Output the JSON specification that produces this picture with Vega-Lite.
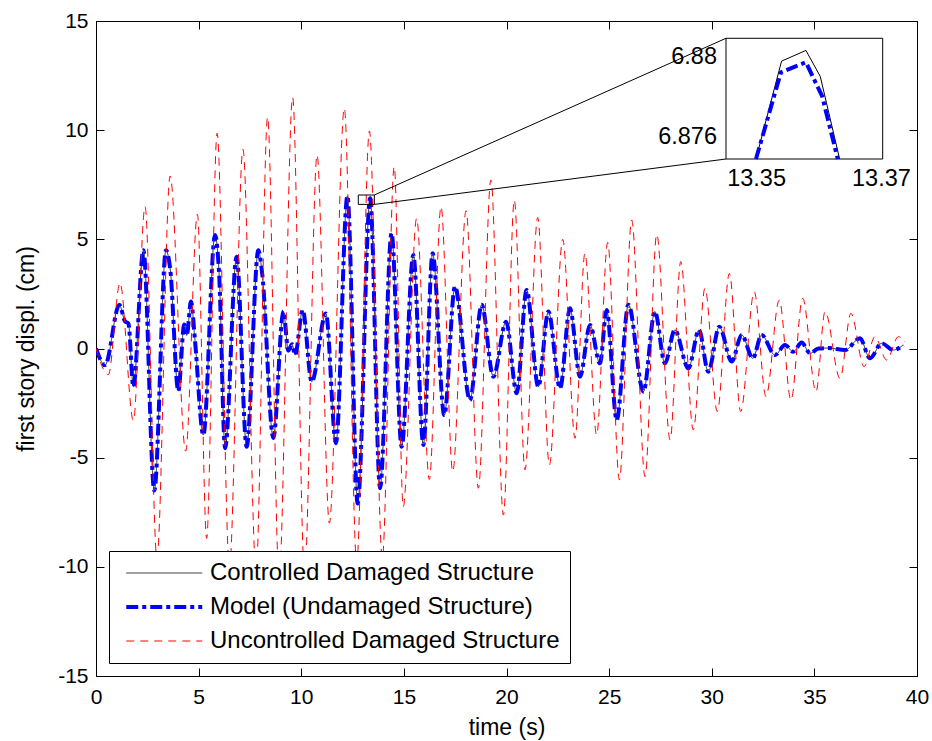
{
  "$schema": "https://vega.github.io/schema/vega-lite/v6.json",
  "width": 821,
  "height": 655,
  "autosize": {"type": "none"},
  "padding": {"left": 96, "top": 21, "right": 15, "bottom": 65},
  "background": "white",
  "config": {
    "font": "Liberation Sans",
    "view": {"stroke": "black", "strokeWidth": 1},
    "axis": {
      "domainColor": "black", "tickColor": "black", "labelColor": "black", "titleColor": "black",
      "labelFontSize": 21, "titleFontSize": 23, "titleFontWeight": "normal", "grid": false,
      "tickSize": -8, "domainWidth": 1, "tickWidth": 1, "labelFlush": false,
      "labelFont": "Liberation Sans", "titleFont": "Liberation Sans"
    },
    "legend": {"labelFont": "Liberation Sans"}
  },
  "datasets": {
    "main": [
      {"t":0,"v":0,"s":"a"},{"t":0.44,"v":-0.76,"s":"a"},{"t":1.14,"v":2.0,"s":"a"},{"t":1.41,"v":1.25,"s":"a"},{"t":1.58,"v":1.15,"s":"a"},{"t":1.82,"v":-1.75,"s":"a"},{"t":2.31,"v":4.5,"s":"a"},{"t":2.84,"v":-6.5,"s":"a"},{"t":3.41,"v":4.5,"s":"a"},{"t":3.62,"v":3.6,"s":"a"},{"t":4.01,"v":-1.95,"s":"a"},{"t":4.3,"v":1.1,"s":"a"},{"t":4.42,"v":0.6,"s":"a"},{"t":4.63,"v":2.15,"s":"a"},{"t":4.82,"v":0.4,"s":"a"},{"t":5.23,"v":-3.96,"s":"a"},{"t":5.8,"v":5.2,"s":"a"},{"t":6.0,"v":3.4,"s":"a"},{"t":6.29,"v":-4.57,"s":"a"},{"t":6.85,"v":4.2,"s":"a"},{"t":7.34,"v":-4.5,"s":"a"},{"t":7.91,"v":4.5,"s":"a"},{"t":8.1,"v":3.4,"s":"a"},{"t":8.64,"v":-4.1,"s":"a"},{"t":9.13,"v":1.7,"s":"a"},{"t":9.37,"v":-0.1,"s":"a"},{"t":9.55,"v":0.2,"s":"a"},{"t":9.7,"v":-0.3,"s":"a"},{"t":10.07,"v":1.76,"s":"a"},{"t":10.51,"v":-1.52,"s":"a"},{"t":11.2,"v":1.6,"s":"a"},{"t":11.69,"v":-4.34,"s":"a"},{"t":12.25,"v":6.98,"s":"a"},{"t":12.75,"v":-7.1,"s":"a"},{"t":13.357,"v":6.8803,"s":"a"},{"t":13.84,"v":-6.4,"s":"a"},{"t":14.4,"v":5.28,"s":"a"},{"t":14.89,"v":-4.5,"s":"a"},{"t":15.46,"v":4.28,"s":"a"},{"t":15.95,"v":-4.42,"s":"a"},{"t":16.4,"v":4.36,"s":"a"},{"t":16.97,"v":-3.05,"s":"a"},{"t":17.49,"v":2.83,"s":"a"},{"t":18.22,"v":-2.36,"s":"a"},{"t":18.79,"v":2.0,"s":"a"},{"t":19.36,"v":-1.29,"s":"a"},{"t":19.98,"v":1.23,"s":"a"},{"t":20.5,"v":-2.05,"s":"a"},{"t":20.98,"v":2.68,"s":"a"},{"t":21.55,"v":-1.75,"s":"a"},{"t":22.04,"v":1.69,"s":"a"},{"t":22.61,"v":-1.82,"s":"a"},{"t":23.09,"v":1.84,"s":"a"},{"t":23.58,"v":-1.29,"s":"a"},{"t":24.07,"v":1.08,"s":"a"},{"t":24.55,"v":-0.68,"s":"a"},{"t":24.88,"v":1.76,"s":"a"},{"t":25.37,"v":-3.27,"s":"a"},{"t":25.94,"v":2.0,"s":"a"},{"t":26.67,"v":-1.98,"s":"a"},{"t":27.23,"v":1.69,"s":"a"},{"t":27.72,"v":-0.68,"s":"a"},{"t":28.2,"v":0.85,"s":"a"},{"t":28.86,"v":-0.91,"s":"a"},{"t":29.38,"v":0.85,"s":"a"},{"t":29.83,"v":-1.06,"s":"a"},{"t":30.37,"v":1.0,"s":"a"},{"t":30.97,"v":-0.6,"s":"a"},{"t":31.46,"v":0.62,"s":"a"},{"t":32.0,"v":-0.45,"s":"a"},{"t":32.43,"v":0.62,"s":"a"},{"t":33.08,"v":-0.3,"s":"a"},{"t":33.57,"v":0.16,"s":"a"},{"t":33.97,"v":-0.15,"s":"a"},{"t":34.38,"v":0.27,"s":"a"},{"t":34.79,"v":-0.22,"s":"a"},{"t":35.2,"v":0.0,"s":"a"},{"t":35.7,"v":0.02,"s":"a"},{"t":36.49,"v":-0.07,"s":"a"},{"t":37.22,"v":0.47,"s":"a"},{"t":37.71,"v":-0.45,"s":"a"},{"t":38.28,"v":0.24,"s":"a"},{"t":38.85,"v":-0.07,"s":"a"},{"t":39.33,"v":0.16,"s":"a"},
      {"t":0,"v":0,"s":"b"},{"t":0.44,"v":-0.76,"s":"b"},{"t":1.14,"v":2.0,"s":"b"},{"t":1.41,"v":1.25,"s":"b"},{"t":1.58,"v":1.15,"s":"b"},{"t":1.82,"v":-1.75,"s":"b"},{"t":2.31,"v":4.5,"s":"b"},{"t":2.84,"v":-6.5,"s":"b"},{"t":3.41,"v":4.5,"s":"b"},{"t":3.62,"v":3.6,"s":"b"},{"t":4.01,"v":-1.95,"s":"b"},{"t":4.3,"v":1.1,"s":"b"},{"t":4.42,"v":0.6,"s":"b"},{"t":4.63,"v":2.15,"s":"b"},{"t":4.82,"v":0.4,"s":"b"},{"t":5.23,"v":-3.96,"s":"b"},{"t":5.8,"v":5.2,"s":"b"},{"t":6.0,"v":3.4,"s":"b"},{"t":6.29,"v":-4.57,"s":"b"},{"t":6.85,"v":4.2,"s":"b"},{"t":7.34,"v":-4.5,"s":"b"},{"t":7.91,"v":4.5,"s":"b"},{"t":8.1,"v":3.4,"s":"b"},{"t":8.64,"v":-4.1,"s":"b"},{"t":9.13,"v":1.7,"s":"b"},{"t":9.37,"v":-0.1,"s":"b"},{"t":9.55,"v":0.2,"s":"b"},{"t":9.7,"v":-0.3,"s":"b"},{"t":10.07,"v":1.76,"s":"b"},{"t":10.51,"v":-1.52,"s":"b"},{"t":11.2,"v":1.6,"s":"b"},{"t":11.69,"v":-4.34,"s":"b"},{"t":12.25,"v":6.98,"s":"b"},{"t":12.75,"v":-7.1,"s":"b"},{"t":13.357,"v":6.8797,"s":"b"},{"t":13.84,"v":-6.4,"s":"b"},{"t":14.4,"v":5.28,"s":"b"},{"t":14.89,"v":-4.5,"s":"b"},{"t":15.46,"v":4.28,"s":"b"},{"t":15.95,"v":-4.42,"s":"b"},{"t":16.4,"v":4.36,"s":"b"},{"t":16.97,"v":-3.05,"s":"b"},{"t":17.49,"v":2.83,"s":"b"},{"t":18.22,"v":-2.36,"s":"b"},{"t":18.79,"v":2.0,"s":"b"},{"t":19.36,"v":-1.29,"s":"b"},{"t":19.98,"v":1.23,"s":"b"},{"t":20.5,"v":-2.05,"s":"b"},{"t":20.98,"v":2.68,"s":"b"},{"t":21.55,"v":-1.75,"s":"b"},{"t":22.04,"v":1.69,"s":"b"},{"t":22.61,"v":-1.82,"s":"b"},{"t":23.09,"v":1.84,"s":"b"},{"t":23.58,"v":-1.29,"s":"b"},{"t":24.07,"v":1.08,"s":"b"},{"t":24.55,"v":-0.68,"s":"b"},{"t":24.88,"v":1.76,"s":"b"},{"t":25.37,"v":-3.27,"s":"b"},{"t":25.94,"v":2.0,"s":"b"},{"t":26.67,"v":-1.98,"s":"b"},{"t":27.23,"v":1.69,"s":"b"},{"t":27.72,"v":-0.68,"s":"b"},{"t":28.2,"v":0.85,"s":"b"},{"t":28.86,"v":-0.91,"s":"b"},{"t":29.38,"v":0.85,"s":"b"},{"t":29.83,"v":-1.06,"s":"b"},{"t":30.37,"v":1.0,"s":"b"},{"t":30.97,"v":-0.6,"s":"b"},{"t":31.46,"v":0.62,"s":"b"},{"t":32.0,"v":-0.45,"s":"b"},{"t":32.43,"v":0.62,"s":"b"},{"t":33.08,"v":-0.3,"s":"b"},{"t":33.57,"v":0.16,"s":"b"},{"t":33.97,"v":-0.15,"s":"b"},{"t":34.38,"v":0.27,"s":"b"},{"t":34.79,"v":-0.22,"s":"b"},{"t":35.2,"v":0.0,"s":"b"},{"t":35.7,"v":0.02,"s":"b"},{"t":36.49,"v":-0.07,"s":"b"},{"t":37.22,"v":0.47,"s":"b"},{"t":37.71,"v":-0.45,"s":"b"},{"t":38.28,"v":0.24,"s":"b"},{"t":38.85,"v":-0.07,"s":"b"},{"t":39.33,"v":0.16,"s":"b"},
      {"t":0,"v":0,"s":"c"},{"t":0.6,"v":-1.2,"s":"c"},{"t":1.17,"v":3.0,"s":"c"},{"t":1.82,"v":-3.3,"s":"c"},{"t":2.39,"v":6.5,"s":"c"},{"t":2.97,"v":-9.6,"s":"c"},{"t":3.61,"v":7.9,"s":"c"},{"t":4.37,"v":-4.7,"s":"c"},{"t":4.94,"v":6.15,"s":"c"},{"t":5.39,"v":-8.7,"s":"c"},{"t":5.9,"v":9.86,"s":"c"},{"t":6.5,"v":-10.0,"s":"c"},{"t":7.16,"v":9.12,"s":"c"},{"t":7.8,"v":-10.2,"s":"c"},{"t":8.36,"v":10.6,"s":"c"},{"t":8.92,"v":-10.5,"s":"c"},{"t":9.58,"v":11.5,"s":"c"},{"t":10.16,"v":-10.3,"s":"c"},{"t":10.77,"v":8.86,"s":"c"},{"t":11.37,"v":-8.0,"s":"c"},{"t":12.1,"v":11.0,"s":"c"},{"t":12.7,"v":-9.8,"s":"c"},{"t":13.32,"v":9.96,"s":"c"},{"t":13.95,"v":-9.6,"s":"c"},{"t":14.53,"v":8.33,"s":"c"},{"t":14.97,"v":-7.25,"s":"c"},{"t":15.62,"v":5.96,"s":"c"},{"t":16.24,"v":-6.0,"s":"c"},{"t":16.81,"v":6.5,"s":"c"},{"t":17.38,"v":-5.64,"s":"c"},{"t":18.03,"v":6.31,"s":"c"},{"t":18.63,"v":-6.4,"s":"c"},{"t":19.24,"v":7.72,"s":"c"},{"t":19.85,"v":-7.63,"s":"c"},{"t":20.38,"v":6.8,"s":"c"},{"t":20.9,"v":-5.56,"s":"c"},{"t":21.52,"v":6.0,"s":"c"},{"t":22.09,"v":-5.34,"s":"c"},{"t":22.74,"v":5.0,"s":"c"},{"t":23.34,"v":-4.11,"s":"c"},{"t":23.82,"v":4.36,"s":"c"},{"t":24.39,"v":-3.96,"s":"c"},{"t":24.93,"v":4.86,"s":"c"},{"t":25.5,"v":-6.02,"s":"c"},{"t":26.1,"v":5.89,"s":"c"},{"t":26.75,"v":-5.87,"s":"c"},{"t":27.32,"v":5.23,"s":"c"},{"t":27.97,"v":-4.19,"s":"c"},{"t":28.49,"v":3.98,"s":"c"},{"t":29.1,"v":-3.73,"s":"c"},{"t":29.67,"v":2.76,"s":"c"},{"t":30.27,"v":-2.89,"s":"c"},{"t":30.86,"v":3.44,"s":"c"},{"t":31.41,"v":-2.89,"s":"c"},{"t":32.07,"v":2.6,"s":"c"},{"t":32.64,"v":-2.2,"s":"c"},{"t":33.29,"v":2.22,"s":"c"},{"t":33.86,"v":-2.36,"s":"c"},{"t":34.43,"v":2.3,"s":"c"},{"t":35.08,"v":-1.98,"s":"c"},{"t":35.52,"v":1.69,"s":"c"},{"t":36.25,"v":-1.37,"s":"c"},{"t":36.78,"v":1.61,"s":"c"},{"t":37.42,"v":-0.83,"s":"c"},{"t":37.95,"v":0.54,"s":"c"},{"t":38.52,"v":-0.53,"s":"c"},{"t":39.09,"v":0.54,"s":"c"},{"t":39.42,"v":0.3,"s":"c"}
    ]
  },
  "resolve": {"scale": {"x": "independent", "y": "independent"}, "axis": {"x": "independent", "y": "independent"}},
  "layer": [
    {
      "data": {"name": "main"},
      "mark": {"type": "line", "interpolate": "monotone", "clip": true},
      "encoding": {
        "x": {"field": "t", "type": "quantitative", "scale": {"domain": [0, 40], "nice": false, "zero": false},
              "axis": {"orient": "bottom", "values": [0,5,10,15,20,25,30,35,40], "title": "time (s)", "labelPadding": 18, "titlePadding": 9}},
        "y": {"field": "v", "type": "quantitative", "scale": {"domain": [-15, 15], "nice": false, "zero": false},
              "axis": {"orient": "left", "values": [-15,-10,-5,0,5,10,15], "title": "first story displ. (cm)", "labelPadding": 16, "titlePadding": 19,
                       "labelExpr": "datum.value < 0 ? '-' + abs(datum.value) : '' + datum.value"}},
        "color": {"field": "s", "type": "nominal",
                  "scale": {"domain": ["a","b","c"], "range": ["#000000","#0000ff","#ff0000"]},
                  "legend": {"orient": "none", "legendX": 13, "legendY": 530, "title": null, "direction": "vertical",
                             "symbolType": "M-0.5,0L7.5,0", "symbolSize": 361, "labelFontSize": 24, "labelOffset": 67, "labelLimit": 0,
                             "rowPadding": 10, "padding": 10, "strokeColor": "black", "fillColor": "white", "cornerRadius": 0,
                             "labelColor": "black",
                             "labelExpr": "datum.label == 'a' ? 'Controlled Damaged Structure' : datum.label == 'b' ? 'Model (Undamaged Structure)' : 'Uncontrolled Damaged Structure'"}},
        "strokeDash": {"field": "s", "type": "nominal", "scale": {"domain": ["a","b","c"], "range": [[1,0],[12,4,4,4],[8,6]]}},
        "strokeWidth": {"field": "s", "type": "nominal", "scale": {"type": "ordinal", "domain": ["a","b","c"], "range": [0.8, 4, 1]}}
      }
    },
    {
      "data": {"name": "main"},
      "mark": {"type": "point", "opacity": 0},
      "encoding": {
        "x": {"field": "t", "type": "quantitative", "scale": {"domain": [0, 40], "nice": false, "zero": false},
              "axis": {"orient": "top", "values": [0,5,10,15,20,25,30,35,40], "labels": false, "title": null}},
        "y": {"field": "v", "type": "quantitative", "scale": {"domain": [-15, 15], "nice": false, "zero": false},
              "axis": {"orient": "right", "values": [-15,-10,-5,0,5,10,15], "labels": false, "title": null}}
      }
    },
    {
      "data": {"values": [{"x": 12.78, "x2": 13.56, "y": 6.6, "y2": 7.03}]},
      "mark": {"type": "rect", "fill": "transparent", "stroke": "black", "strokeWidth": 1},
      "encoding": {
        "x": {"field": "x", "type": "quantitative", "scale": {"domain": [0, 40], "nice": false, "zero": false}, "axis": null},
        "x2": {"field": "x2"},
        "y": {"field": "y", "type": "quantitative", "scale": {"domain": [-15, 15], "nice": false, "zero": false}, "axis": null},
        "y2": {"field": "y2"}
      }
    },
    {
      "data": {"values": [{"x": 13.56, "y": 7.03, "x2": 30.694, "y2": 14.208}, {"x": 13.56, "y": 6.6, "x2": 30.694, "y2": 8.679}]},
      "mark": {"type": "rule", "stroke": "black", "strokeWidth": 1},
      "encoding": {
        "x": {"field": "x", "type": "quantitative", "scale": {"domain": [0, 40], "nice": false, "zero": false}, "axis": null},
        "x2": {"field": "x2"},
        "y": {"field": "y", "type": "quantitative", "scale": {"domain": [-15, 15], "nice": false, "zero": false}, "axis": null},
        "y2": {"field": "y2"}
      }
    },
    {
      "data": {"values": [{"x": 30.694, "x2": 38.329, "y": 8.679, "y2": 14.208}]},
      "mark": {"type": "rect", "fill": "white", "stroke": "black", "strokeWidth": 1},
      "encoding": {
        "x": {"field": "x", "type": "quantitative", "scale": {"domain": [0, 40], "nice": false, "zero": false}, "axis": null},
        "x2": {"field": "x2"},
        "y": {"field": "y", "type": "quantitative", "scale": {"domain": [-15, 15], "nice": false, "zero": false}, "axis": null},
        "y2": {"field": "y2"}
      }
    },
    {
      "data": {"values": [{"t": 13.3499, "v": 6.874924}, {"t": 13.354, "v": 6.87978}, {"t": 13.3579, "v": 6.88031}, {"t": 13.3602, "v": 6.87902}, {"t": 13.3633, "v": 6.874924}]},
      "mark": {"type": "line", "stroke": "black", "strokeWidth": 1},
      "encoding": {
        "x": {"field": "t", "type": "quantitative", "scale": {"domain": [13.244187, 13.375694], "nice": false, "zero": false}, "axis": null},
        "y": {"field": "v", "type": "quantitative", "scale": {"domain": [6.849275, 6.88177], "nice": false, "zero": false}, "axis": null}
      }
    },
    {
      "data": {"values": [{"t": 13.3499, "v": 6.874924}, {"t": 13.3539, "v": 6.87922}, {"t": 13.3579, "v": 6.87972}, {"t": 13.3605, "v": 6.87804}, {"t": 13.363, "v": 6.874924}]},
      "mark": {"type": "line", "stroke": "#0000ff", "strokeWidth": 4, "strokeDash": [12, 4, 4, 4]},
      "encoding": {
        "x": {"field": "t", "type": "quantitative", "scale": {"domain": [13.244187, 13.375694], "nice": false, "zero": false}, "axis": null},
        "y": {"field": "v", "type": "quantitative", "scale": {"domain": [6.849275, 6.88177], "nice": false, "zero": false}, "axis": null}
      }
    },
    {
      "data": {"values": [{"t": 13.3451, "v": 6.88, "label": "6.88"}, {"t": 13.3451, "v": 6.876, "label": "6.876"}]},
      "mark": {"type": "text", "align": "right", "baseline": "middle", "dx": -9, "fontSize": 23.5, "font": "Liberation Sans", "color": "black"},
      "encoding": {
        "x": {"field": "t", "type": "quantitative", "scale": {"domain": [13.244187, 13.375694], "nice": false, "zero": false}, "axis": null},
        "y": {"field": "v", "type": "quantitative", "scale": {"domain": [6.849275, 6.88177], "nice": false, "zero": false}, "axis": null},
        "text": {"field": "label"}
      }
    },
    {
      "data": {"values": [{"t": 13.35, "v": 6.874924, "label": "13.35"}, {"t": 13.37, "v": 6.874924, "label": "13.37"}]},
      "mark": {"type": "text", "align": "center", "baseline": "top", "dy": 8, "fontSize": 23.5, "font": "Liberation Sans", "color": "black"},
      "encoding": {
        "x": {"field": "t", "type": "quantitative", "scale": {"domain": [13.244187, 13.375694], "nice": false, "zero": false}, "axis": null},
        "y": {"field": "v", "type": "quantitative", "scale": {"domain": [6.849275, 6.88177], "nice": false, "zero": false}, "axis": null},
        "text": {"field": "label"}
      }
    }
  ]
}
